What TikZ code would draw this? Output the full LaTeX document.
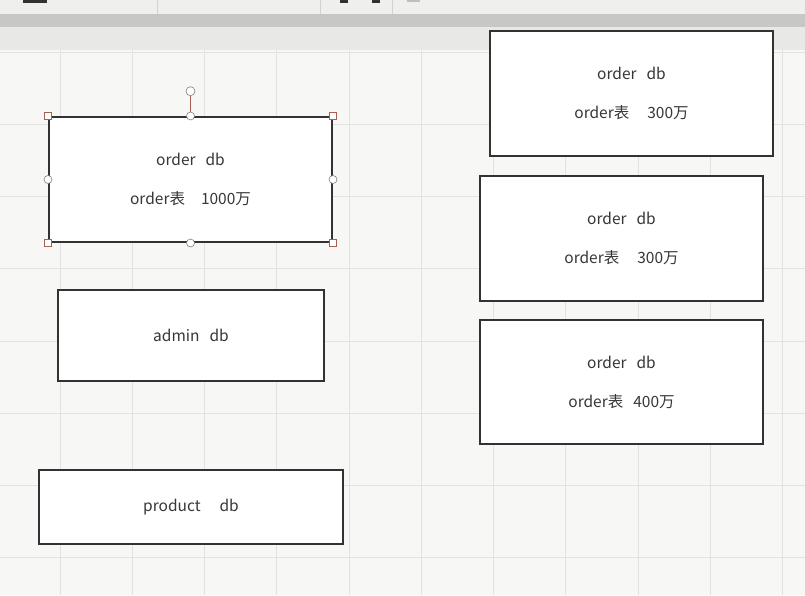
\documentclass[tikz,border=0pt]{standalone}
\usepackage{fontspec}
\setmainfont{Noto Sans CJK SC}
\usepackage{tikz}
\usetikzlibrary{positioning}
\definecolor{canvasbg}{RGB}{247,247,245}
\definecolor{gridline}{RGB}{226,226,224}
\definecolor{toolbarbg}{RGB}{239,239,238}
\definecolor{bandgray}{RGB}{199,200,198}
\definecolor{rulerbg}{RGB}{232,233,231}
\definecolor{boxline}{RGB}{50,50,50}
\definecolor{textgray}{RGB}{55,55,55}
\definecolor{handlered}{RGB}{165,95,85}
\newcommand{\dbfont}{\fontsize{15.5}{39}\selectfont}
\tikzset{
  dbbox/.style={draw=boxline, line width=2pt, fill=white, minimum width=283pt, minimum height=125pt,
    font=\dbfont, text=textgray, align=center, inner sep=0pt},
  sqhandle/.style={draw=handlered, fill=white, line width=0.6pt, minimum size=7pt, inner sep=0pt},
  rdhandle/.style={circle, draw=gray, fill=white, line width=0.6pt, minimum size=9pt, inner sep=0pt}
}

\begin{document}
\begin{tikzpicture}[x=1pt, y=-1pt]
        \useasboundingbox (0,0) rectangle (805,595);
        % Window bars
        \fill[toolbarbg] (0,0) rectangle (805,14);
        \fill[bandgray] (0,14) rectangle (805,27);
        \fill[rulerbg] (0,27) rectangle (805,50);
        \fill[boxline] (23,0) rectangle (47,3);
        \fill[boxline] (340,0) rectangle (348,3);
        \fill[boxline] (372,0) rectangle (380,3);
        \fill[gray!50] (407,0) rectangle (420,2);
        \draw[gray!35] (157,0) -- (157,14);
        \draw[gray!35] (320,0) -- (320,14);
        \draw[gray!35] (392,0) -- (392,14);
        
        % Canvas and grid
        \fill[canvasbg] (0,50) rectangle (805,595);
        \foreach \gx in {0,...,10}
            \draw[gridline, line width=1pt] ({60+72.25*\gx},50) -- ({60+72.25*\gx},595);
        \foreach \gy in {0,...,7}
            \draw[gridline, line width=1pt] (0,{52+72.25*\gy}) -- (805,{52+72.25*\gy});
        
        % Left databases
        \node[dbbox] (order1) at (190.5,179.5) {order\hspace{10pt}db\\order表\hspace{16pt}1000万};
        \node[dbbox, minimum width=266pt, minimum height=91pt] (admin) at (191,335.5) {admin\hspace{10pt}db};
        \node[dbbox, minimum width=304pt, minimum height=74pt] (product) at (191,507) {product\hspace{19pt}db};
        
        % Right databases
        \node[dbbox] (order2) at (631.5,93.5) {order\hspace{10pt}db\\order表\hspace{18pt}300万};
        \node[dbbox] (order3) at (621.5,238.5) {order\hspace{10pt}db\\order表\hspace{18pt}300万};
        \node[dbbox, minimum height=124pt] (order4) at (621.5,382) {order\hspace{10pt}db\\order表\hspace{10pt}400万};
        
        % Selection handles
        \node[rdhandle] (rot) [above=20pt of order1.north] {};
        \draw[handlered, line width=0.8pt] (order1.north) -- (rot);
        \node[sqhandle] (hnw) at (order1.north west) {};
        \node[sqhandle] (hne) at (order1.north east) {};
        \node[sqhandle] (hsw) at (order1.south west) {};
        \node[sqhandle] (hse) at (order1.south east) {};
        \node[rdhandle, minimum size=8pt] (hn) at (order1.north) {};
        \node[rdhandle, minimum size=8pt] (hs) at (order1.south) {};
        \node[rdhandle, minimum size=8pt] (hw) at (order1.west) {};
        \node[rdhandle, minimum size=8pt] (he) at (order1.east) {};
        
    \end{tikzpicture}
\end{document}
